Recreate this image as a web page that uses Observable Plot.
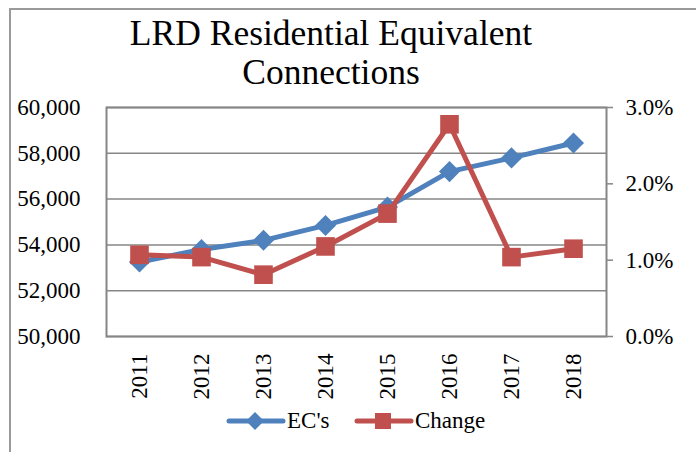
<!DOCTYPE html>
<html>
<head>
<meta charset="utf-8">
<script src="https://cdn.jsdelivr.net/npm/d3@7"></script>
<script src="https://cdn.jsdelivr.net/npm/@observablehq/plot@0.6"></script>
<style>
  html, body { margin: 0; padding: 0; background: #fff; }
  #wrap { position: relative; width: 696px; height: 452px; overflow: hidden; font-family: "Liberation Serif", "Times New Roman", serif; color: #000; }
  #border { position: absolute; left: 9px; top: 8px; width: 700px; height: 460px; border-top: 2px solid #9a9a9a; border-left: 2px solid #9a9a9a; }
  .title { position: absolute; left: 0; top: 14px; width: 662px; text-align: center; font-size: 35.5px; line-height: 39px; white-space: nowrap; }
  #chart { position: absolute; left: 0; top: 0; }
  .leg { position: absolute; font-size: 23px; line-height: 23px; white-space: nowrap; }
  .sw { position: absolute; }
</style>
</head>
<body>
<div id="wrap">
  <div id="border"></div>
  <div id="chart"></div>
  <div class="title">LRD Residential Equivalent<br>Connections</div>
  <svg class="sw" style="left:226px;top:408px" width="60" height="26">
    <line x1="3" y1="13" x2="57" y2="13" stroke="#4F81BD" stroke-width="5" stroke-linecap="round"/>
    <path d="M29,4 L38,13 L29,22 L20,13 Z" fill="#4F81BD"/>
  </svg>
  <div class="leg" style="left:287px;top:409px">EC's</div>
  <svg class="sw" style="left:354px;top:408px" width="60" height="26">
    <line x1="3" y1="13" x2="57" y2="13" stroke="#C0504D" stroke-width="5" stroke-linecap="round"/>
    <rect x="21" y="5" width="16" height="16" fill="#C0504D"/>
  </svg>
  <div class="leg" style="left:415px;top:409px">Change</div>
</div>
<script>
const years = ["2011", "2012", "2013", "2014", "2015", "2016", "2017", "2018"];
const ecs = [53250, 53800, 54200, 54850, 55650, 57200, 57800, 58450];
const changePct = [1.07, 1.04, 0.81, 1.18, 1.61, 2.78, 1.04, 1.15];
const leftTicks = [50000, 52000, 54000, 56000, 58000, 60000];
const rightTicks = [0, 1, 2, 3];

const yMin = 50000, yMax = 60000, pctMax = 3;
const pctToY = p => yMin + p / pctMax * (yMax - yMin);
const yToPct = v => (v - yMin) / (yMax - yMin) * pctMax;

const rows = years.map((y, i) => ({year: y, ec: ecs[i], change: changePct[i]}));

const font = "Liberation Serif";
const plot = Plot.plot({
  width: 696,
  height: 452,
  marginLeft: 106,
  marginRight: 90,
  marginTop: 107,
  marginBottom: 116,
  style: {fontFamily: font, background: "transparent", overflow: "visible"},
  x: {type: "point", domain: years, padding: 0.5, label: null},
  y: {domain: [yMin, yMax], label: null},
  marks: [
    Plot.gridY(leftTicks, {stroke: "#868686", strokeOpacity: 1, strokeWidth: 1.5}),
    Plot.frame({stroke: "#868686", strokeWidth: 2}),
    Plot.axisY(leftTicks, {anchor: "left", tickSize: 0, tickPadding: 26, tickFormat: d3.format(","), fontSize: 23, fill: "#000", label: null}),
    Plot.axisY(rightTicks.map(pctToY), {anchor: "right", tickSize: 6, stroke: "#868686", strokeWidth: 1.5, tickPadding: 13, tickFormat: d => yToPct(d).toFixed(1) + "%", fontSize: 23, fill: "#000", label: null}),
    Plot.axisX({tickRotate: -90, tickSize: 0, tickPadding: 17, fontSize: 23, fill: "#000", label: null}),
    Plot.line(rows, {x: "year", y: "ec", stroke: "#4F81BD", strokeWidth: 5}),
    Plot.dot(rows, {x: "year", y: "ec", symbol: "diamond2", r: 9.5, fill: "#4F81BD", stroke: "none"}),
    Plot.line(rows, {x: "year", y: d => pctToY(d.change), stroke: "#C0504D", strokeWidth: 5}),
    Plot.dot(rows, {x: "year", y: d => pctToY(d.change), symbol: "square", r: 10.5, fill: "#C0504D", stroke: "none"})
  ]
});
document.getElementById("chart").appendChild(plot);
</script>
</body>
</html>
